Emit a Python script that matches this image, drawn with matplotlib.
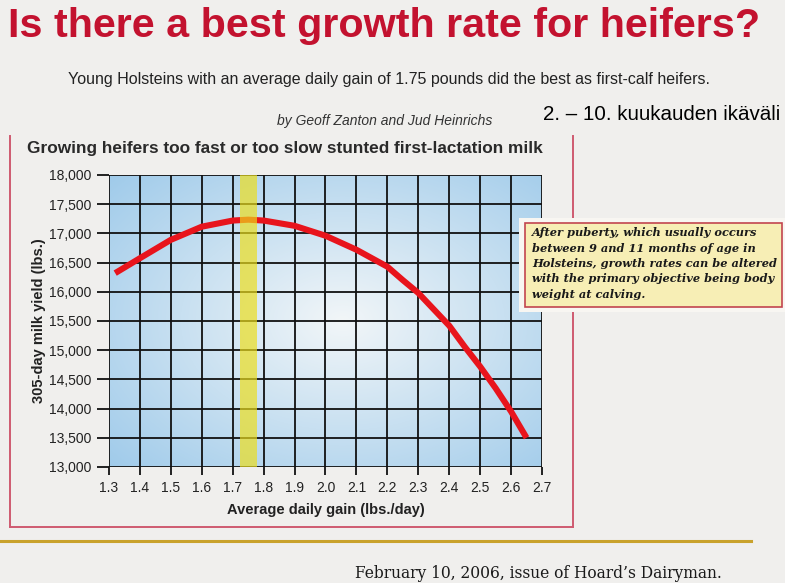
import numpy as np
import matplotlib
matplotlib.use("Agg")
import matplotlib.pyplot as plt
from matplotlib import font_manager
from matplotlib.lines import Line2D
from matplotlib.patches import Rectangle

# values
adg = [1.32, 1.4, 1.5, 1.6, 1.7, 1.75, 1.8, 1.9, 2.0, 2.1, 2.2, 2.25, 2.3,
       2.35, 2.4, 2.45, 2.5, 2.55, 2.6, 2.65]
milk = [16320, 16575, 16890, 17115, 17220, 17235, 17220, 17130, 16960, 16720,
        16430, 16200, 15980, 15700, 15420, 15060, 14720, 14350, 13950, 13500]
best_band = (1.724, 1.778)
x_ticks = [1.3, 1.4, 1.5, 1.6, 1.7, 1.8, 1.9, 2.0, 2.1, 2.2, 2.3, 2.4, 2.5, 2.6, 2.7]
y_ticks = [13000, 13500, 14000, 14500, 15000, 15500, 16000, 16500, 17000, 17500, 18000]

title = "Is there a best growth rate for heifers?"
subtitle = "Young Holsteins with an average daily gain of 1.75 pounds did the best as first-calf heifers."
byline = "by Geoff Zanton and Jud Heinrichs"
note_fi = "2. \u2013 10. kuukauden ikäväli"
chart_title = "Growing heifers too fast or too slow stunted first-lactation milk"
note = ("After puberty, which usually occurs\n"
        "between 9 and 11 months of age in\n"
        "Holsteins, growth rates can be altered\n"
        "with the primary objective being body\n"
        "weight at calving.")
caption = "February 10, 2006, issue of Hoard\u2019s Dairyman."

names = {f.name for f in font_manager.fontManager.ttflist}
NARROW = "Liberation Sans Narrow" if "Liberation Sans Narrow" in names else "Liberation Sans"
SANS = "Liberation Sans"

W, H = 785, 583


def fx(px):
    return px / W


def fy(py):
    return 1 - py / H


fig = plt.figure(figsize=(7.85, 5.83), dpi=100, facecolor="#f0efed")

ax = fig.add_axes([fx(109), fy(467), fx(542) - fx(109), fy(175) - fy(467)])

# light blue background, brighter toward the middle
gx, gy = np.meshgrid(np.linspace(0, 1, 300), np.linspace(0, 1, 200))
r = np.sqrt(((gx - 0.54) / 0.75) ** 2 + ((gy - 0.5) / 0.75) ** 2)
r = np.clip(r, 0, 1)
edge = np.array([158, 202, 234]) / 255
centre = np.array([242, 246, 248]) / 255
img = centre[None, None, :] * (1 - r[..., None]) + edge[None, None, :] * r[..., None]
ax.imshow(img, extent=[1.3, 2.7, 13000, 18000], aspect="auto", origin="lower",
          zorder=0, interpolation="bilinear")

ax.plot(adg, milk, color="#e8141c", lw=4.4, solid_capstyle="butt", zorder=3)
ax.axvspan(best_band[0], best_band[1], color=(0.93, 0.87, 0.10), alpha=0.68,
           lw=0, zorder=4)

ax.set_xlim(1.3, 2.7)
ax.set_ylim(13000, 18000)
ax.set_xticks(x_ticks)
ax.set_yticks(y_ticks)
ax.set_xticklabels([f"{v:.1f}" for v in x_ticks])
ax.set_yticklabels([f"{v:,}" for v in y_ticks])
ax.grid(True, color="#111111", lw=1.3, zorder=2)
ax.set_axisbelow(False)
for s in ax.spines.values():
    s.set_visible(False)
ax.tick_params(axis="y", length=9, width=1.3, color="#111111", pad=4,
               labelsize=10, labelcolor="#222222")
ax.tick_params(axis="x", length=6, width=1.3, color="#111111", pad=4,
               labelsize=10, labelcolor="#222222")
for lab in ax.get_xticklabels() + ax.get_yticklabels():
    lab.set_family(SANS)
ax.set_xlabel("Average daily gain (lbs./day)", fontsize=10.5, fontweight="bold",
              family=NARROW, color="#222222", labelpad=6)
ax.set_ylabel("305-day milk yield (lbs.)", fontsize=10.5, fontweight="bold",
              family=NARROW, color="#222222", labelpad=2)

# texts above the chart
fig.text(fx(8), fy(26), title, fontsize=29.7, fontweight="bold", family=NARROW,
         color="#c3122f", ha="left", va="center")
fig.text(fx(389), fy(80), subtitle, fontsize=11.5, family=NARROW,
         color="#222222", ha="center", va="center")
fig.text(fx(385), fy(121), byline, fontsize=10, style="italic", family=NARROW,
         color="#333333", ha="center", va="center")
fig.text(fx(543), fy(115), note_fi, fontsize=14.8, family=SANS,
         color="black", ha="left", va="center")
fig.text(fx(27), fy(148), chart_title, fontsize=12.4, fontweight="bold",
         family=SANS, color="#2a2a2a", ha="left", va="center")

# pink frame round the chart (no top side)
frame = dict(color="#cf5a70", lw=1.4)
fig.add_artist(Line2D([fx(10), fx(10)], [fy(136), fy(527)], **frame))
fig.add_artist(Line2D([fx(10), fx(573)], [fy(527), fy(527)], **frame))
fig.add_artist(Line2D([fx(573), fx(573)], [fy(136), fy(527)], **frame))

# note box
fig.add_artist(Rectangle((fx(519), fy(312)), fx(785) - fx(519), fy(218) - fy(312),
                         facecolor="#f8f6f2", edgecolor="none", zorder=5))
fig.add_artist(Rectangle((fx(525), fy(307)), fx(782) - fx(525), fy(223) - fy(307),
                         facecolor="#f7eeb5", edgecolor="#c2454f", lw=1.2, zorder=6))
fig.text(fx(532), fy(227), note, fontsize=8.2, family="DejaVu Serif",
         fontweight="bold", style="italic", color="#1a1a1a", ha="left", va="top",
         linespacing=1.5, zorder=7)

# gold rule and source line
fig.add_artist(Line2D([0, fx(751)], [fy(541), fy(541)], color="#c9a22c", lw=2.2))
fig.text(fx(722), fy(573), caption, fontsize=11.2, family="DejaVu Serif",
         color="#1a1a1a", ha="right", va="center")

fig.savefig("out.png", dpi=100, facecolor=fig.get_facecolor())
